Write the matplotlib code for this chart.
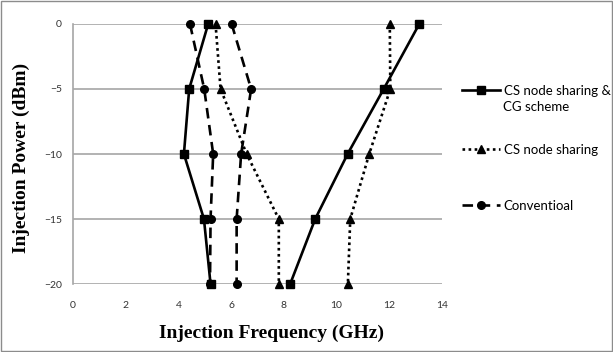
import matplotlib.pyplot as plt
from matplotlib.patches import Rectangle
from matplotlib.lines import Line2D

# Injektionsleistung (dBm)
power = [0, -5, -10, -15, -20]

# CS node sharing & CG scheme: linke und rechte Grenze (GHz)
cg_left = [5.13, 4.41, 4.21, 4.97, 5.22]
cg_right = [13.14, 11.79, 10.42, 9.19, 8.24]

# CS node sharing
cs_left = [5.41, 5.60, 6.59, 7.81, 7.81]
cs_right = [12.02, 12.04, 11.24, 10.52, 10.43]

# Conventioal
conv_left = [4.44, 4.98, 5.32, 5.22, 5.20]
conv_right = [6.02, 6.76, 6.38, 6.21, 6.21]

xticks = [0, 2, 4, 6, 8, 10, 12, 14]
yticks = [0, -5, -10, -15, -20]

fig = plt.figure(figsize=(6.13, 3.52), dpi=100)
ax = fig.add_axes([0.119, 0.193, 0.602, 0.739])

ms = 5.5
lw = 1.9
dotted = (0, (1, 1.3))
dashed = (0, (4, 2.5))
# Conventioal (gestrichelt, Kreis)
for xs in (conv_left, conv_right):
    ax.plot(xs, power, color='black', lw=lw, ls=dashed, marker='o', ms=ms, zorder=3, clip_on=False)
# CS node sharing (gepunktet, Dreieck)
for xs in (cs_left, cs_right):
    ax.plot(xs, power, color='black', lw=lw, ls=dotted, marker='^', ms=ms + 0.5, zorder=3, clip_on=False)
# CS node sharing & CG scheme (durchgezogen, Quadrat)
for xs in (cg_left, cg_right):
    ax.plot(xs, power, color='black', lw=lw, ls='-', marker='s', ms=ms, zorder=3, clip_on=False)

ax.set_xlim(0, 14)
ax.set_ylim(-20, 0)
ax.set_xticks(xticks)
ax.set_yticks(yticks)
ax.tick_params(length=0, labelsize=7.5, colors='#333333')
ax.tick_params(axis='x', pad=12.5)
ax.tick_params(axis='y', pad=8)
for lbl in ax.get_xticklabels() + ax.get_yticklabels():
    lbl.set_family('Lato')
ax.yaxis.grid(True, color='#a6a6a6', lw=1.2)
ax.set_axisbelow(True)
for s in ('top', 'right'):
    ax.spines[s].set_visible(False)
ax.spines['bottom'].set_visible(False)
ax.spines['left'].set_color('#a6a6a6')
ax.spines['left'].set_linewidth(1.2)
ax.spines['left'].set_zorder(0)

serif = dict(family='Liberation Serif', weight='bold', size=14)
ax.set_xlabel('Injection Frequency (GHz)', **serif)
ax.set_ylabel('Injection Power (dBm)', **serif)
ax.xaxis.set_label_coords(0.537, -0.155)
ax.yaxis.set_label_coords(-0.117, 0.485)

# Legende: drei Einträge, einzeln platziert wie im Original
leg_font = dict(family='Lato', size=9.5)
entries = [
    (Line2D([], [], color='black', lw=lw, ls='-', marker='s', ms=ms), 'CS node sharing &', 90.7),
    (Line2D([], [], color='black', lw=lw, ls=dotted, marker='^', ms=ms + 0.5), 'CS node sharing', 150),
    (Line2D([], [], color='black', lw=lw, ls=dashed, marker='o', ms=ms), 'Conventioal', 206),
]
for h, lab, ypx in entries:
    lg = fig.legend([h], [lab], loc='center left', bbox_to_anchor=(462 / 613, 1 - ypx / 352),
                    frameon=False, prop=leg_font, borderpad=0, borderaxespad=0,
                    handlelength=2.9, handletextpad=0.25)
fig.text(503 / 613, 1 - 107 / 352, 'CG scheme', va='center', ha='left', **leg_font)

# Rahmen um die Grafik
fig.patches.append(Rectangle((0.002, 0.003), 0.996, 0.994, transform=fig.transFigure,
                             fill=False, edgecolor='#8c8c8c', lw=1))

plt.savefig('out.png', dpi=100)
